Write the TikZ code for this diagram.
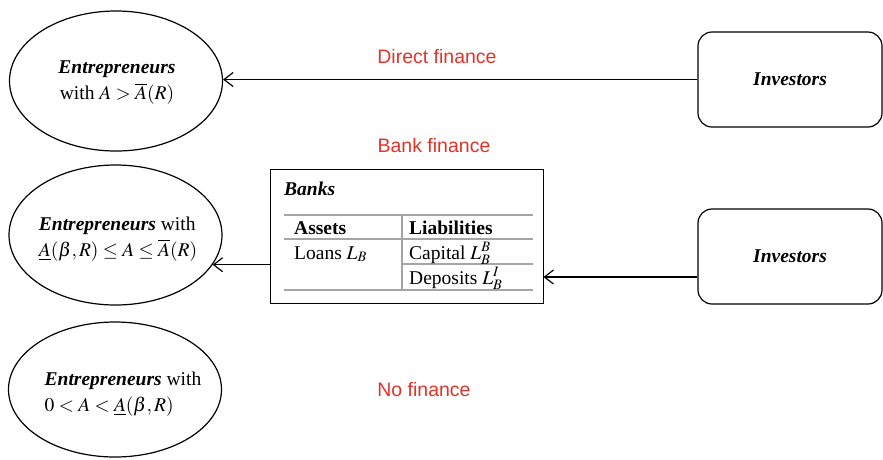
\documentclass[tikz,border=0pt]{standalone}
\usepackage{mathptmx}
\usepackage[no-math]{fontspec}
\setmainfont{Liberation Serif}
\newfontfamily\arialfont{Liberation Sans}
\usetikzlibrary{shapes.geometric,arrows.meta,calc}
\definecolor{labred}{RGB}{226,50,40}
\definecolor{tablegray}{RGB}{165,165,165}
\begin{document}
\begin{tikzpicture}[x=1pt,y=-1pt,
  ent/.style={draw, ellipse, line width=1.2pt, minimum width=213pt, minimum height=138pt, inner sep=0pt},
  inv/.style={draw, rounded corners=14pt, line width=1.2pt, minimum width=184pt, minimum height=95pt,
              font=\fontsize{19.5}{26}\selectfont\bfseries\itshape},
  txt/.style={font=\fontsize{19.5}{26}\selectfont, inner sep=0pt},
  fin/.style={font=\arialfont\fontsize{19.5}{22}\selectfont, text=labred, inner sep=0pt},
  arr/.style={line width=1.2pt, -{Straight Barb[length=9pt,width=14pt,line width=1.2pt]}},
  tline/.style={draw=tablegray, line width=2.6pt}]
\useasboundingbox (0,0) rectangle (883,459);

% entrepreneurs ellipses
\node[ent, minimum height=140pt] (e1) at (116,81) {};
\node[ent, minimum height=140pt] (e2) at (115.5,235) {};
\node[ent, minimum height=135pt] (e3) at (115,389.5) {};

\node[txt, align=center] (t1) at (117,83)
  {\textbf{\textit{Entrepreneurs}}\\ with $A>\overline{A}(R)$};
\node[txt, align=left] (t2) at (118,239)
  {\textbf{\textit{Entrepreneurs}} with\\ $\underline{A}(\beta,R)\le A\le\overline{A}(R)$};
\node[txt, align=left] (t3) at (123,394)
  {\textbf{\textit{Entrepreneurs}} with\\ $0<A<\underline{A}(\beta,R)$};

% investors
\node[inv] (inv1) at (790,79.5) {Investors};
\node[inv] (inv2) at (790,256.5) {Investors};

% banks
\node[draw, line width=1pt, minimum width=273pt, minimum height=134pt, inner sep=0pt] (banks) at (406.5,236) {};
\node[txt, anchor=base west] (bk) at (284,195) {\textbf{\textit{Banks}}};
\draw[tline] (284,215) -- (533,215);
\draw[tline] (284,239) -- (533,239);
\draw[tline] (402,264) -- (533,264);
\draw[tline] (284,290) -- (533,290);
\draw[tline] (402,215) -- (402,290);
\node[txt, anchor=base west] (as) at (294,234) {\textbf{Assets}};
\node[txt, anchor=base west] (li) at (409,234) {\textbf{Liabilities}};
\node[txt, anchor=base west] (lo) at (294,259) {Loans $L_B$};
\node[txt, anchor=base west] (ca) at (409,259) {Capital $L_B^B$};
\node[txt, anchor=base west] (de) at (409,284) {Deposits $L_B^I$};

% labels
\node[fin] (df) at (437,57) {Direct finance};
\node[fin] (bf) at (434,146) {Bank finance};
\node[fin] (nf) at (424,390) {No finance};

% connectors
\coordinate (a2) at (0,277);
\draw[arr] (inv1.west) -- (inv1.west -| e1.east);
\draw[arr] (inv2.west |- a2) -- (banks.east |- a2);
\draw[arr] (banks.west |- e2.-17) -- (e2.-17);
\end{tikzpicture}
\end{document}
